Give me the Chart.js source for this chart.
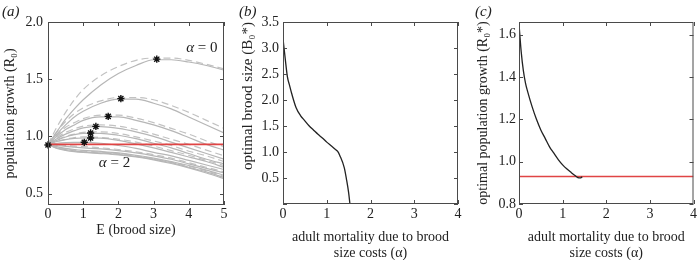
<!DOCTYPE html>
<html>
<head>
<meta charset="utf-8">
<script src="https://cdn.jsdelivr.net/npm/chart.js@4.4.1/dist/chart.umd.min.js"></script>
<style>
html, body { margin: 0; padding: 0; background: #fff; overflow: hidden; }
canvas { position: absolute; top: 0; }
</style>
</head>
<body>
<canvas id="panelA" width="232" height="260" style="left:0px"></canvas>
<canvas id="panelB" width="228" height="264" style="left:236px"></canvas>
<canvas id="panelC" width="229" height="264" style="left:470px"></canvas>
<script>
Chart.defaults.font.family = "'Liberation Serif', 'Times New Roman', serif";
Chart.defaults.font.size = 14;
Chart.defaults.color = '#222';

// (a) population growth vs brood size, one curve per alpha (solid and dashed)
const brood = [0, 0.25, 0.5, 0.75, 1, 1.5, 2, 2.5, 3, 3.5, 4, 4.5, 5];
const solidR0 = [
    [0.93, 1.04, 1.15, 1.24, 1.32, 1.45, 1.55, 1.62, 1.67, 1.67, 1.65, 1.62, 1.58],
    [0.93, 1.02, 1.10, 1.17, 1.22, 1.29, 1.325, 1.325, 1.29, 1.24, 1.17, 1.10, 1.03],
    [0.93, 1.00, 1.06, 1.10, 1.14, 1.17, 1.17, 1.14, 1.10, 1.05, 0.99, 0.93, 0.88],
    [0.93, 0.98, 1.02, 1.05, 1.075, 1.085, 1.07, 1.04, 1.00, 0.95, 0.90, 0.85, 0.80],
    [0.93, 0.965, 0.995, 1.015, 1.027, 1.027, 1.01, 0.98, 0.94, 0.90, 0.85, 0.80, 0.76],
    [0.93, 0.955, 0.972, 0.982, 0.986, 0.984, 0.965, 0.935, 0.90, 0.86, 0.82, 0.78, 0.73],
    [0.93, 0.94, 0.946, 0.948, 0.948, 0.94, 0.92, 0.895, 0.86, 0.83, 0.79, 0.75, 0.71],
    [0.93, 0.92, 0.912, 0.906, 0.90, 0.89, 0.875, 0.855, 0.83, 0.80, 0.76, 0.72, 0.68],
    [0.93, 0.91, 0.895, 0.885, 0.878, 0.868, 0.855, 0.835, 0.81, 0.78, 0.745, 0.705, 0.66],
    [0.93, 0.90, 0.885, 0.873, 0.865, 0.855, 0.843, 0.825, 0.80, 0.77, 0.73, 0.69, 0.64],
    [0.93, 0.895, 0.878, 0.867, 0.86, 0.85, 0.838, 0.82, 0.795, 0.763, 0.725, 0.68, 0.63]
];
const dashedR0 = [
    [0.93, 1.08, 1.21, 1.32, 1.41, 1.53, 1.61, 1.665, 1.685, 1.685, 1.665, 1.63, 1.59],
    [0.93, 1.04, 1.13, 1.20, 1.25, 1.31, 1.34, 1.34, 1.32, 1.27, 1.21, 1.14, 1.07],
    [0.93, 1.01, 1.08, 1.12, 1.155, 1.185, 1.185, 1.16, 1.12, 1.07, 1.02, 0.96, 0.91],
    [0.93, 0.99, 1.035, 1.065, 1.09, 1.10, 1.09, 1.06, 1.02, 0.975, 0.93, 0.88, 0.83],
    [0.93, 0.97, 1.00, 1.02, 1.035, 1.04, 1.025, 0.995, 0.96, 0.92, 0.87, 0.83, 0.78],
    [0.93, 0.955, 0.975, 0.99, 0.995, 0.99, 0.975, 0.95, 0.915, 0.875, 0.835, 0.79, 0.745],
    [0.93, 0.925, 0.92, 0.915, 0.91, 0.90, 0.885, 0.865, 0.84, 0.81, 0.77, 0.73, 0.69],
    [0.93, 0.905, 0.89, 0.88, 0.872, 0.862, 0.85, 0.83, 0.805, 0.775, 0.74, 0.70, 0.65]
];
const optE = [0, 1.03, 1.21, 1.21, 1.36, 1.71, 2.07, 3.09];
const optR0 = [0.925, 0.948, 0.986, 1.03, 1.087, 1.175, 1.33, 1.675];
const replacement = 0.93;

// (b) optimal brood size vs alpha
const alphaB = [0, 0.05, 0.1, 0.15, 0.2, 0.3, 0.4, 0.5, 0.6, 0.7, 0.8, 0.9, 1.0, 1.1, 1.2, 1.25, 1.3, 1.4, 1.45, 1.5, 1.53];
const bestBrood = [3.18, 2.8, 2.45, 2.28, 2.12, 1.85, 1.7, 1.6, 1.5, 1.42, 1.34, 1.27, 1.19, 1.12, 1.05, 1.01, 0.93, 0.7, 0.48, 0.22, 0];

// (c) optimal population growth vs alpha
const alphaC = [0, 0.05, 0.1, 0.15, 0.2, 0.3, 0.4, 0.5, 0.6, 0.7, 0.8, 0.9, 1.0, 1.1, 1.2, 1.3, 1.35, 1.4, 1.45];
const bestR0 = [1.65, 1.52, 1.43, 1.37, 1.33, 1.26, 1.2, 1.15, 1.11, 1.07, 1.04, 1.01, 0.985, 0.965, 0.948, 0.932, 0.925, 0.923, 0.928];

const alphaNotes = [{e: 4.37, r: 1.77, text: ' = 0'}, {e: 1.89, r: 0.77, text: ' = 2'}];

const RED = '#e04444';
const serif = "'Liberation Serif', 'Times New Roman', serif";

function pts(xs, ys) {
    return xs.map((v, i) => ({x: v, y: ys[i]}));
}

// matlab style box with inward ticks on all four sides
const boxTicks = {
    id: 'boxTicks',
    afterDatasetsDraw(chart) {
        const {ctx, chartArea: a, scales: {x, y}} = chart;
        ctx.save();
        ctx.strokeStyle = '#4a4a4a';
        ctx.lineWidth = 1;
        ctx.beginPath();
        x.ticks.forEach(t => {
            const px = Math.round(x.getPixelForValue(t.value)) + 0.5;
            ctx.moveTo(px, a.bottom); ctx.lineTo(px, a.bottom - 4);
            ctx.moveTo(px, a.top); ctx.lineTo(px, a.top + 4);
        });
        y.ticks.forEach(t => {
            const py = Math.round(y.getPixelForValue(t.value)) + 0.5;
            ctx.moveTo(a.left, py); ctx.lineTo(a.left + 4, py);
            ctx.moveTo(a.right, py); ctx.lineTo(a.right - 4, py);
        });
        ctx.stroke();
        ctx.strokeRect(a.left + 0.5, a.top + 0.5, a.width - 1, a.height - 1);
        ctx.restore();
    }
};

const alphaLabels = {
    id: 'alphaLabels',
    afterDatasetsDraw(chart) {
        const {ctx, scales: {x, y}} = chart;
        ctx.save();
        ctx.fillStyle = '#222';
        ctx.textBaseline = 'middle';
        alphaNotes.forEach(n => {
            ctx.font = 'italic 15px ' + serif;
            const w1 = ctx.measureText('α').width;
            ctx.font = '15px ' + serif;
            const w2 = ctx.measureText(n.text).width;
            const px = x.getPixelForValue(n.e) - (w1 + w2) / 2;
            const py = y.getPixelForValue(n.r);
            ctx.font = 'italic 15px ' + serif;
            ctx.fillText('α', px, py);
            ctx.font = '15px ' + serif;
            ctx.fillText(n.text, px + w1, py);
        });
        ctx.restore();
    }
};

function panelOptions(p) {
    return {
        responsive: false,
        animation: false,
        events: [],
        layout: { padding: { left: p.padLeft, right: p.padRight, top: 0, bottom: 0 } },
        plugins: {
            legend: { display: false },
            tooltip: { enabled: false },
            title: {
                display: true,
                text: p.label,
                align: 'start',
                color: '#222',
                font: { size: 15, style: 'italic', weight: 'normal' },
                padding: { top: 3, bottom: 1 }
            }
        },
        scales: {
            x: {
                type: 'linear',
                min: 0,
                max: p.xMax,
                grid: { display: false, drawTicks: false },
                border: { display: false },
                ticks: { stepSize: 1, padding: p.xTickPad, maxRotation: 0 },
                title: {
                    display: true,
                    text: p.xTitle,
                    font: { size: 14 },
                    padding: { top: 0, bottom: p.xTitlePad }
                },
                afterFit: function (s) { s.height = p.xHeight; }
            },
            y: {
                min: p.yMin,
                max: p.yMax,
                grid: { display: false, drawTicks: false },
                border: { display: false },
                ticks: {
                    stepSize: p.yStep,
                    includeBounds: false,
                    padding: p.yTickPad,
                    callback: function (v) { return (p.hideZero && v === 0) ? '' : v.toFixed(1); }
                },
                title: {
                    display: true,
                    text: p.yTitle,
                    align: p.yTitleAlign || 'center',
                    font: { size: p.yTitleSize || 14 },
                    padding: { top: 0, bottom: 0 }
                },
                afterFit: function (s) { s.width = p.yWidth; }
            }
        }
    };
}

const curveDatasetsA = [];
solidR0.forEach(c => curveDatasetsA.push({
    data: pts(brood, c),
    borderColor: '#b6b6b6',
    borderWidth: 1.2,
    pointRadius: 0,
    cubicInterpolationMode: 'monotone'
}));
dashedR0.forEach(c => curveDatasetsA.push({
    data: pts(brood, c),
    borderColor: '#c2c2c2',
    borderWidth: 1.2,
    borderDash: [7, 4],
    pointRadius: 0,
    cubicInterpolationMode: 'monotone'
}));

new Chart(document.getElementById('panelA'), {
    type: 'line',
    plugins: [boxTicks, alphaLabels],
    data: {
        datasets: [
            {
                data: pts(optE, optR0),
                showLine: false,
                pointStyle: 'star',
                pointRadius: 3.6,
                borderColor: '#111',
                backgroundColor: '#111',
                borderWidth: 1.4,
                clip: false
            },
            {
                data: [{x: 0, y: replacement}, {x: 5, y: replacement}],
                borderColor: RED,
                borderWidth: 1.6,
                pointRadius: 0
            }
        ].concat(curveDatasetsA)
    },
    options: panelOptions({
        label: '(a)', padLeft: 2, padRight: 8, xMax: 5, xHeight: 55, xTickPad: 1,
        xTitle: 'E (brood size)', xTitlePad: 21.6,
        yMin: 0.4, yMax: 2.0, yStep: 0.5, yTickPad: 5, yWidth: 46,
        yTitle: 'population growth (R₀)'
    })
});

new Chart(document.getElementById('panelB'), {
    type: 'line',
    plugins: [boxTicks],
    data: {
        datasets: [
            {
                data: pts(alphaB, bestBrood),
                borderColor: '#222',
                borderWidth: 1.3,
                pointRadius: 0,
                cubicInterpolationMode: 'monotone'
            }
        ]
    },
    options: panelOptions({
        label: '(b)', padLeft: 3, padRight: 6, xMax: 4, xHeight: 60, xTickPad: 2,
        xTitle: ['adult mortality due to brood', 'size costs (α)'], xTitlePad: 1.8,
        yMin: 0, yMax: 3.5, yStep: 0.5, yTickPad: 4, yWidth: 44, hideZero: true,
        yTitle: 'optimal brood size (B₀*)', yTitleAlign: 'end', yTitleSize: 15
    })
});

new Chart(document.getElementById('panelC'), {
    type: 'line',
    plugins: [boxTicks],
    data: {
        datasets: [
            {
                data: pts(alphaC, bestR0),
                borderColor: '#222',
                borderWidth: 1.3,
                pointRadius: 0,
                cubicInterpolationMode: 'monotone'
            },
            {
                data: [{x: 0, y: replacement}, {x: 4, y: replacement}],
                borderColor: RED,
                borderWidth: 1.6,
                pointRadius: 0
            }
        ]
    },
    options: panelOptions({
        label: '(c)', padLeft: 5, padRight: 4, xMax: 4, xHeight: 60, xTickPad: 2,
        xTitle: ['adult mortality due to brood', 'size costs (α)'], xTitlePad: 1.8,
        yMin: 0.8, yMax: 1.66, yStep: 0.2, yTickPad: 3, yWidth: 44,
        yTitle: 'optimal population growth (R₀*)'
    })
});
</script>
</body>
</html>
